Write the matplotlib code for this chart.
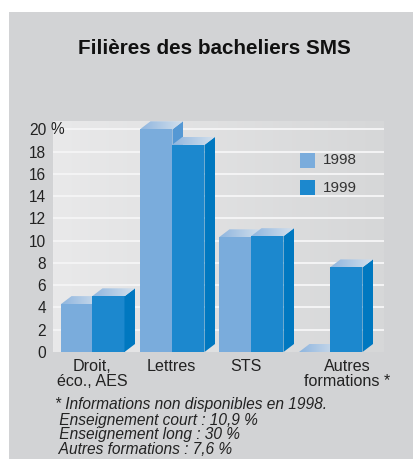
import numpy as np
import matplotlib
matplotlib.use('Agg')
import matplotlib.pyplot as plt
from matplotlib.patches import Polygon, Rectangle
from matplotlib.colors import LinearSegmentedColormap

categories = ["Droit,\néco., AES", "Lettres", "STS", "Autres\nformations *"]
years = ["1998", "1999"]
v1998 = [4.3, 20.0, 10.3, 0.0]
v1999 = [5.0, 18.6, 10.4, 7.6]
yticks = [0, 2, 4, 6, 8, 10, 12, 14, 16, 18, 20]
notes = ["* Informations non disponibles en 1998.",
         " Enseignement court : 10,9 %",
         " Enseignement long : 30 %",
         " Autres formations : 7,6 %"]

plt.rcParams['font.family'] = ['Liberation Sans', 'DejaVu Sans']

W, H = 414, 459
fig = plt.figure(figsize=(W / 100, H / 100), dpi=100, facecolor='white')

# grey card, runs off the right and bottom edges
bg = fig.add_axes([0, 0, 1, 1])
bg.set_xlim(0, W)
bg.set_ylim(H, 0)
bg.axis('off')
bg.add_patch(Rectangle((9, 12), W - 9, H - 12, color='#d2d3d5', lw=0))
bg.text(214.5, 48, "Filières des bacheliers SMS", ha='center', va='center',
        fontsize=14.9, fontweight='bold', color='#111111')

# axes box in pixels: x 53-384, y 121-352
ax = fig.add_axes([53 / W, 1 - 352 / H, 331 / W, 231 / H])
px_per_unit = (352 - 129.3) / 20
ax.set_ylim(0, 231 / px_per_unit)
ax.set_xlim(53, 384)
ax.imshow(np.linspace(0, 1, 256).reshape(1, -1),
          cmap=LinearSegmentedColormap.from_list('p', ['#e9e9ea', '#d6d7d8']),
          extent=[53, 384, 0, 231 / px_per_unit], aspect='auto', zorder=0)
for s in ax.spines.values():
    s.set_visible(False)
ax.set_yticks(yticks)
ax.set_yticklabels([str(t) for t in yticks])
for lab in ax.get_yticklabels():
    lab.set_fontsize(11.2)
    lab.set_color('#222222')
ax.tick_params(axis='y', length=0, pad=5)
ax.set_xticks([])
ax.hlines(yticks[1:], 53, 384, color='#f4f4f5', lw=1.4, zorder=1)
# the % sits over the plot area, so it goes on the figure and not on bg
fig.text(51 / W, 1 - 129 / H, "%", fontsize=11.2, color='#222222', va='center', zorder=6)

left98 = [61, 140, 219, 299]
left99 = [92, 172, 251, 330]
bar_w = 32.5
dx, dy = 10.5, 8
dy_u = dy / px_per_unit
sky = LinearSegmentedColormap.from_list('t', ['#8fb6df', '#d3dfec'])


def draw_bar(x, w, val, front, side, z):
    if val > 0:
        ax.bar(x, val, w, align='edge', color=front, lw=0, zorder=z)
        ax.add_patch(Polygon([(x + w, 0), (x + w + dx, dy_u), (x + w + dx, val + dy_u),
                              (x + w, val)], color=side, lw=0, zorder=z))
    # top face, gradient clipped on the parallelogram
    top = Polygon([(x, val), (x + w, val), (x + w + dx, val + dy_u), (x + dx, val + dy_u)],
                  color='none', lw=0, zorder=z + 0.1)
    ax.add_patch(top)
    im = ax.imshow(np.linspace(0, 1, 64).reshape(1, -1), cmap=sky,
                   extent=[x, x + w + dx, val, val + dy_u], aspect='auto', zorder=z + 0.1)
    im.set_clip_path(top)


for i in range(len(categories)):
    draw_bar(left98[i], bar_w, v1998[i], '#7aacdc', '#5598d4', 2 + i)
    draw_bar(left99[i], bar_w, v1999[i], '#1c88ce', '#0078c0', 2.5 + i)
ax.set_xlim(53, 384)
ax.set_ylim(0, 231 / px_per_unit)

# legend, on a top layer above the plot background
for y, col, lab in zip([153, 180], ['#7aacdc', '#1c88ce'], years):
    fig.patches.append(Rectangle((300 / W, 1 - (y + 15) / H), 15 / W, 15 / H, color=col, lw=0,
                                 transform=fig.transFigure, figure=fig, zorder=5))
    fig.text(322.5 / W, 1 - (y + 7.5) / H, lab, fontsize=11, va='center', color='#333333', zorder=5)

label_x = [92, 171, 246, 347]
for x, c in zip(label_x, categories):
    bg.text(x, 359, c, ha='center', va='top', fontsize=11.6, color='#222222', linespacing=1.0)

for y, n in zip([405, 420, 434, 449], notes):
    bg.text(55, y, n, fontsize=11.2, style='italic', va='center', color='#222222')

fig.savefig('out.png', dpi=100)
